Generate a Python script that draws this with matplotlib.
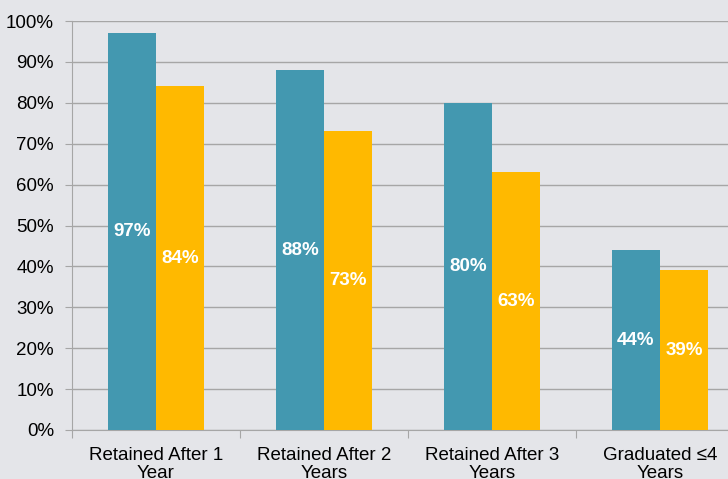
import matplotlib.pyplot as plt
import numpy as np

plt.rcParams['font.family'] = ['Liberation Sans', 'DejaVu Sans']

categories = ["Retained After 1\nYear", "Retained After 2\nYears",
              "Retained After 3\nYears", "Graduated \u22644\nYears"]
series_a = [97, 88, 80, 44]
series_b = [84, 73, 63, 39]

bg = '#E4E5E9'
teal = '#4398B0'
gold = '#FFB900'
grid = '#A6A6A6'

fig = plt.figure(figsize=(7.28, 4.79), dpi=100, facecolor=bg)
ax = fig.add_axes([72/728, 49/479, 672/728, 409/479], facecolor=bg)

x = np.arange(len(categories))
w = 0.286
bars_a = ax.bar(x - w/2, series_a, w, color=teal, zorder=3)
bars_b = ax.bar(x + w/2, series_b, w, color=gold, zorder=3)

for bars, vals in ((bars_a, series_a), (bars_b, series_b)):
    for b, v in zip(bars, vals):
        ax.text(b.get_x() + b.get_width()/2, v/2, f"{v}%", ha='center', va='center',
                color='white', fontsize=13.5, fontweight='bold', zorder=4)

ax.set_xlim(-0.5, len(categories) - 0.5)
ax.set_ylim(0, 100)
ax.set_yticks(np.arange(0, 101, 10))
ax.set_yticklabels([f"{t}%" for t in range(0, 101, 10)], fontsize=13.5)
ax.yaxis.grid(True, color=grid, linewidth=1, zorder=0)

ax.set_xticks(np.arange(len(categories) + 1) - 0.5)
ax.set_xticklabels([])
ax.set_xticks(x, minor=True)
ax.set_xticklabels(categories, minor=True, fontsize=13.5, linespacing=1.12)
ax.tick_params(axis='x', which='minor', length=0, pad=12)
ax.tick_params(axis='x', which='major', length=6, color=grid)
ax.tick_params(axis='y', length=5, color=grid, pad=8)

for s in ('top', 'right'):
    ax.spines[s].set_visible(False)
for s in ('left', 'bottom'):
    ax.spines[s].set_color(grid)

fig.savefig('out.png', dpi=100, facecolor=bg)
